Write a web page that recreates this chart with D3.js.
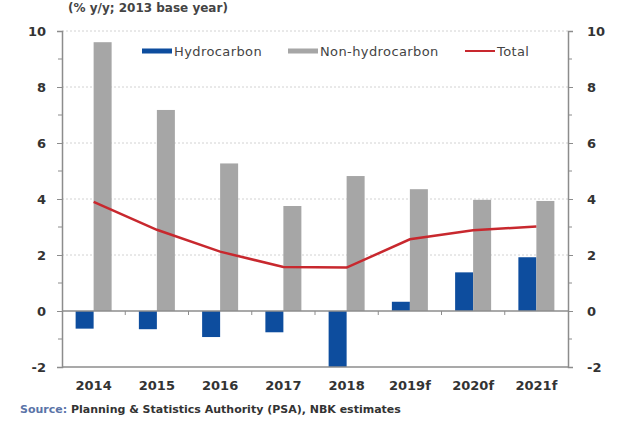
<!DOCTYPE html>
<html>
  <head>
    <meta charset="utf-8" />
    <script src="https://d3js.org/d3.v7.min.js"></script>
    <style>
      body { margin: 0; background: #fff; }
      text { font-family: "DejaVu Sans", Verdana, sans-serif; }
    </style>
  </head>
  <body>
    <svg width="633" height="426"></svg>
    <script>
      // Data
      const years = ["2014", "2015", "2016", "2017", "2018", "2019f", "2020f", "2021f"];
      const hydrocarbon = [-0.63, -0.65, -0.93, -0.76, -2.0, 0.33, 1.38, 1.92];
      const nonHydrocarbon = [9.6, 7.18, 5.27, 3.75, 4.82, 4.35, 3.97, 3.93];
      const total = [3.9, 2.9, 2.12, 1.57, 1.55, 2.56, 2.88, 3.02];
      const yTicks = [-2, 0, 2, 4, 6, 8, 10];

      const blue = "#0d4d9e";
      const grey = "#a6a6a6";
      const red = "#c8282e";
      const axisCol = "#8c8c8c";

      const svg = d3.select("svg");
      const plotLeft = 62, plotRight = 568, plotTop = 31, plotBottom = 367;

      const x = d3.scaleBand().domain(years).range([plotLeft, plotRight]);
      const y = d3.scaleLinear().domain([-2, 10]).range([plotBottom, plotTop]);
      const barW = 18;

      // Gridlines (dotted)
      svg.append("g")
        .selectAll("line")
        .data(yTicks.filter((d) => d > 0))
        .join("line")
        .attr("x1", plotLeft)
        .attr("x2", plotRight)
        .attr("y1", (d) => y(d))
        .attr("y2", (d) => y(d))
        .attr("stroke", "#d2d2d2")
        .attr("stroke-dasharray", "2,2");

      // Bars
      svg.append("g")
        .selectAll("rect")
        .data(years)
        .join("rect")
        .attr("x", (d) => x(d) + x.bandwidth() / 2 - barW)
        .attr("width", barW)
        .attr("y", (d, i) => y(Math.max(0, hydrocarbon[i])))
        .attr("height", (d, i) => Math.abs(y(hydrocarbon[i]) - y(0)))
        .attr("fill", blue);

      svg.append("g")
        .selectAll("rect")
        .data(years)
        .join("rect")
        .attr("x", (d) => x(d) + x.bandwidth() / 2)
        .attr("width", barW)
        .attr("y", (d, i) => y(nonHydrocarbon[i]))
        .attr("height", (d, i) => y(0) - y(nonHydrocarbon[i]))
        .attr("fill", grey);

      // Zero line and category ticks
      svg.append("line")
        .attr("x1", plotLeft).attr("x2", plotRight)
        .attr("y1", y(0)).attr("y2", y(0))
        .attr("stroke", axisCol).attr("stroke-width", 1.5);
      svg.append("g")
        .selectAll("line")
        .data(years.slice(1))
        .join("line")
        .attr("x1", (d) => x(d)).attr("x2", (d) => x(d))
        .attr("y1", y(0)).attr("y2", y(0) + 4)
        .attr("stroke", axisCol);

      // Bottom frame line
      svg.append("line")
        .attr("x1", plotLeft).attr("x2", plotRight)
        .attr("y1", plotBottom).attr("y2", plotBottom)
        .attr("stroke", axisCol).attr("stroke-width", 1.5);

      // Total line
      const line = d3.line()
        .x((d, i) => x(years[i]) + x.bandwidth() / 2)
        .y((d) => y(d));
      svg.append("path")
        .datum(total)
        .attr("d", line)
        .attr("fill", "none")
        .attr("stroke", red)
        .attr("stroke-width", 2.5);

      // Y axes
      const minor = d3.range(-1, 10, 2);
      const fmt = (d) => String(d);
      const axL = svg.append("g").attr("transform", `translate(${plotLeft},0)`)
        .call(d3.axisLeft(y).tickValues(yTicks).tickSize(5).tickFormat(fmt));
      axL.selectAll("line.minor").data(minor).join("line")
        .attr("x1", 0).attr("x2", -4).attr("y1", (d) => y(d)).attr("y2", (d) => y(d))
        .attr("stroke", axisCol);
      const axR = svg.append("g").attr("transform", `translate(${plotRight},0)`)
        .call(d3.axisRight(y).tickValues(yTicks).tickSize(5).tickFormat(fmt));
      axR.selectAll("line.minor").data(minor).join("line")
        .attr("x1", 0).attr("x2", 4).attr("y1", (d) => y(d)).attr("y2", (d) => y(d))
        .attr("stroke", axisCol);
      [axL, axR].forEach((g) => {
        g.select(".domain").attr("stroke", axisCol).attr("stroke-width", 1.5);
        g.selectAll(".tick line").attr("stroke", axisCol);
        g.selectAll("text")
          .attr("font-family", "DejaVu Sans, sans-serif")
          .attr("font-size", 13)
          .attr("font-weight", "bold")
          .attr("fill", "#333");
      });
      axL.selectAll(".tick text").attr("x", -16);
      axR.selectAll(".tick text").attr("x", 19);

      // X labels
      svg.append("g")
        .selectAll("text")
        .data(years)
        .join("text")
        .attr("x", (d) => x(d) + x.bandwidth() / 2)
        .attr("y", 390)
        .attr("text-anchor", "middle")
        .attr("font-size", 13)
        .attr("font-weight", "bold")
        .attr("fill", "#333")
        .text((d) => d);

      // Legend
      const legend = [
        { name: "Hydrocarbon", color: blue, x: 142, h: 5 },
        { name: "Non-hydrocarbon", color: grey, x: 288, h: 5 },
        { name: "Total", color: red, x: 465, h: 2 },
      ];
      const lg = svg.append("g").selectAll("g").data(legend).join("g");
      lg.append("rect")
        .attr("x", (d) => d.x)
        .attr("y", (d) => 51 - d.h / 2)
        .attr("width", 30)
        .attr("height", (d) => d.h)
        .attr("fill", (d) => d.color);
      lg.append("text")
        .attr("x", (d) => d.x + 32)
        .attr("y", 56)
        .attr("font-size", 13)
        .attr("letter-spacing", 0.4)
        .attr("fill", "#444")
        .text((d) => d.name);

      // Title and source
      svg.append("text")
        .attr("x", 68).attr("y", 12)
        .attr("font-size", 12).attr("font-weight", "bold").attr("fill", "#444")
        .text("(% y/y; 2013 base year)");
      const src = svg.append("text")
        .attr("x", 20).attr("y", 413)
        .attr("font-size", 11).attr("font-weight", "bold");
      src.append("tspan").attr("fill", "#5b74a8").text("Source: ");
      src.append("tspan").attr("fill", "#333").text("Planning & Statistics Authority (PSA), NBK estimates");
    </script>
  </body>
</html>
